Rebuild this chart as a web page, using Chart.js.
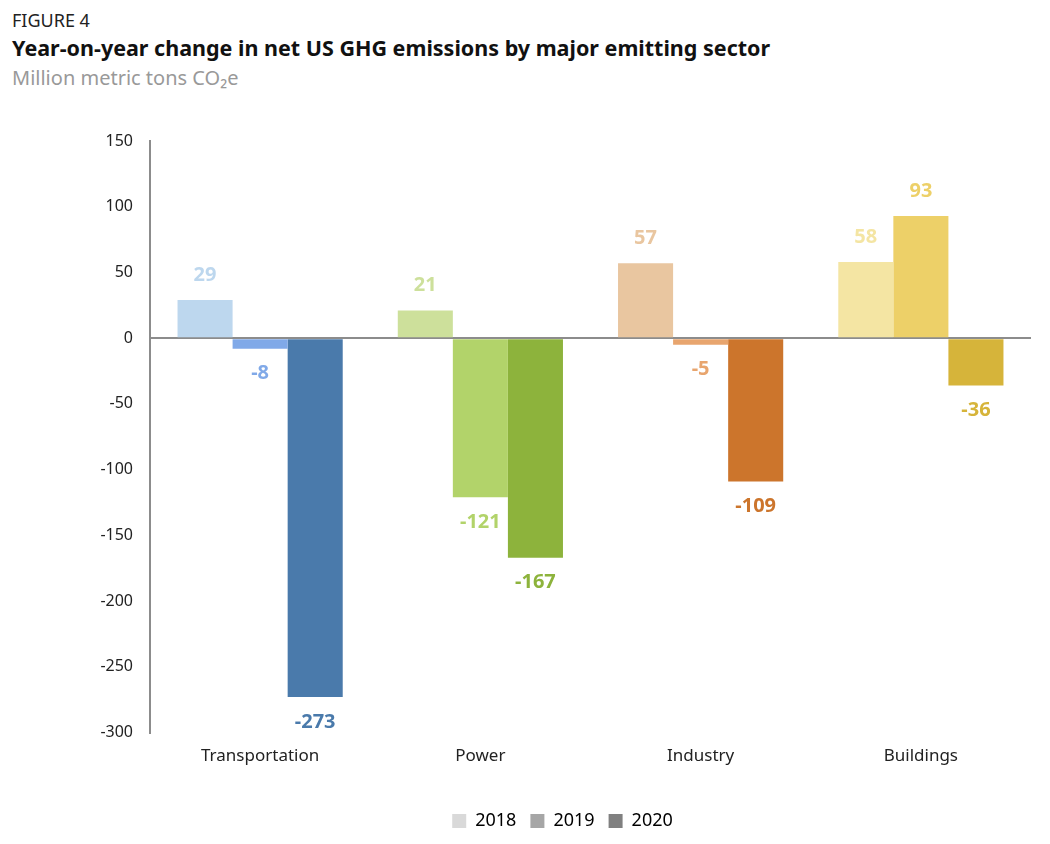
<!DOCTYPE html>
<html>
<head>
    <title>Year-on-year change in net US GHG emissions</title>
    <script src="https://cdn.jsdelivr.net/npm/chart.js"></script>
    <style>
        body { margin: 0; background: #fff; font-family: "Noto Sans", sans-serif; }
        #head { position: absolute; left: 12px; top: 7px; }
        #fig { font-size: 18px; color: #222; line-height: 26px; }
        #ttl { font-size: 21.5px; font-weight: bold; color: #111; line-height: 30px; }
        #sub { font-size: 20px; color: #999; line-height: 30px; }
        #box { position: absolute; left: 0; top: 110px; width: 1050px; height: 734px; }
    </style>
</head>
<body>
<div id="head">
    <div id="fig">FIGURE 4</div>
    <div id="ttl">Year-on-year change in net US GHG emissions by major emitting sector</div>
    <div id="sub">Million metric tons CO₂e</div>
</div>
<div id="box"><canvas id="myChart"></canvas></div>
<script>
    var sectors = ["Transportation", "Power", "Industry", "Buildings"];
    var years = ["2018", "2019", "2020"];
    var v2018 = [29, 21, 57, 58];
    var v2019 = [-8, -121, -5, 93];
    var v2020 = [-273, -167, -109, -36];
    var yTicks = [150, 100, 50, 0, -50, -100, -150, -200, -250, -300];

    // bar colours per sector, one list per year
    var c2018 = ["#BDD7EE", "#CDE09B", "#E9C6A0", "#F4E5A3"];
    var c2019 = ["#80A9E8", "#B2D36A", "#E8A56E", "#EDD068"];
    var c2020 = ["#4A7AAB", "#8DB33C", "#CC752C", "#D6B43A"];
    var legendColors = ["#D9D9D9", "#A6A6A6", "#808080"];

    var ctx = document.getElementById('myChart').getContext('2d');

    // value labels above / below each bar
    var valueLabels = {
        id: 'valueLabels',
        afterDatasetsDraw: function(chart) {
            var c = chart.ctx;
            c.save();
            c.font = 'bold 20px "Noto Sans"';
            c.textAlign = 'center';
            c.textBaseline = 'middle';
            chart.data.datasets.forEach(function(ds, i) {
                var meta = chart.getDatasetMeta(i);
                meta.data.forEach(function(bar, j) {
                    var v = ds.data[j];
                    c.fillStyle = ds.backgroundColor[j];
                    var y = v >= 0 ? bar.y - 25 : bar.y + 25;
                    c.fillText(String(v), bar.x, y);
                });
            });
            c.restore();
        }
    };

    var chart = new Chart(ctx, {
        type: 'bar',
        data: {
            labels: sectors,
            datasets: [
                { label: years[0], data: v2018, backgroundColor: c2018 },
                { label: years[1], data: v2019, backgroundColor: c2019 },
                { label: years[2], data: v2020, backgroundColor: c2020 }
            ]
        },
        options: {
            responsive: true,
            maintainAspectRatio: false,
            animation: false,
            categoryPercentage: 0.75,
            barPercentage: 1.0,
            layout: { padding: { left: 94, right: 19, top: 31, bottom: 4 } },
            plugins: {
                tooltip: { enabled: false },
                legend: {
                    position: 'bottom',
                    labels: {
                        boxWidth: 14,
                        boxHeight: 14,
                        padding: 14,
                        color: '#222',
                        font: { family: 'Noto Sans', size: 18 },
                        generateLabels: function(ch) {
                            return years.map(function(y, i) {
                                return { text: y, fillStyle: legendColors[i], strokeStyle: legendColors[i], lineWidth: 0, datasetIndex: i };
                            });
                        }
                    }
                }
            },
            scales: {
                x: {
                    afterFit: function(s) { s.height += 27; },
                    grid: { display: false },
                    border: { display: false },
                    ticks: { color: '#222', padding: 5, font: { family: 'Noto Sans', size: 17 } }
                },
                y: {
                    min: -300,
                    max: 150,
                    afterFit: function(s) { s.width = 56; },
                    afterBuildTicks: function(s) { s.ticks = yTicks.map(function(v) { return { value: v }; }); },
                    border: { display: true, color: '#8C8C8C', width: 2 },
                    grid: {
                        drawTicks: false,
                        lineWidth: 2,
                        color: function(c) { return c.tick && c.tick.value === 0 ? '#8C8C8C' : 'rgba(0,0,0,0)'; }
                    },
                    ticks: { color: '#222', padding: 17, font: { family: 'Noto Sans', size: 16 } }
                }
            }
        },
        plugins: [valueLabels]
    });
</script>
</body>
</html>
